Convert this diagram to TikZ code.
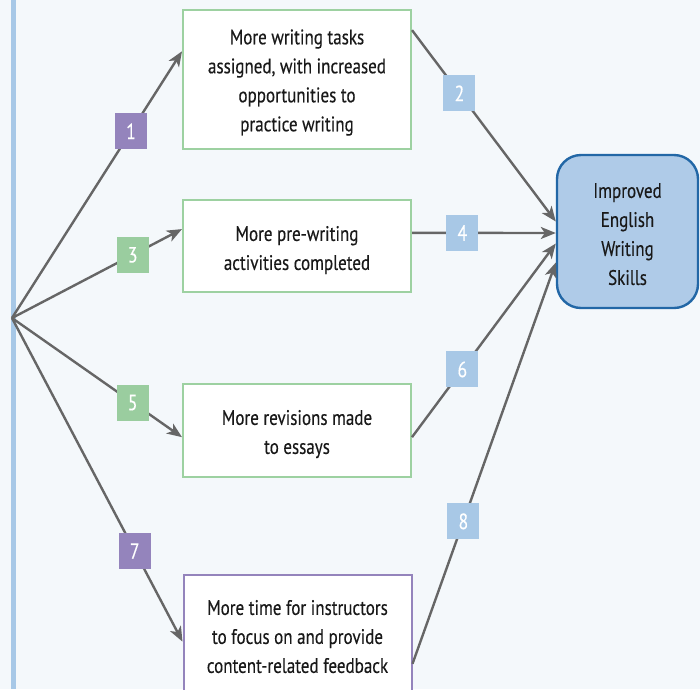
\documentclass[tikz,border=0pt]{standalone}
\usepackage{fontspec}
\setmainfont[FakeStretch=0.81,FakeBold=0.3]{PT Sans}
\usepackage{tikz}
\usetikzlibrary{
  arrows.meta,
  calc
}
\definecolor{pagebg}{HTML}{F4F8FB}
\definecolor{barblue}{HTML}{A7C8E7}
\definecolor{boxgreen}{HTML}{9DD1A1}
\definecolor{badgegreen}{HTML}{9ACD9F}
\definecolor{boxpurple}{HTML}{9484BC}
\definecolor{badgeblue}{HTML}{A8C8E6}
\definecolor{goalfill}{HTML}{AFCBE8}
\definecolor{goalline}{HTML}{2267A6}
\colorlet{linkgray}{black!60}
\newcommand\toppad[1]{\rule{0pt}{#1}}
\tikzset{
  effectbox/.style={draw=boxgreen,line width=2pt,fill=white,minimum width=228pt,
    align=center,inner sep=0pt,font=\fontsize{21}{29}\selectfont,text=black!90},
  goalbox/.style={draw=goalline,line width=2.4pt,fill=goalfill,rounded corners=24pt,
    minimum width=141pt,minimum height=153pt,align=center,inner sep=0pt,
    font=\fontsize{21}{29}\selectfont,text=black!90},
  badge/.style={fill=#1,text=white,minimum width=32pt,minimum height=36pt,inner sep=0pt,
    font=\fontsize{22}{22}\selectfont},
  link/.style={draw=linkgray,line width=2.4pt,-{Stealth[length=15pt,width=12pt,inset=4pt]}},
}

\begin{document}
\begin{tikzpicture}[x=1pt,y=-1pt]
\clip (0,0) rectangle (700,689);
\fill[pagebg] (0,0) rectangle (700,689);
\fill[barblue] (11,0) rectangle (16,689);
\coordinate (src) at (12,318);
\node[effectbox,minimum height=139pt] (tasks) at (297,79.5)
  {\toppad{21pt}More writing tasks\\assigned, with increased\\opportunities to\\practice writing};
\node[effectbox,minimum height=92pt] (prewrite) at (297,246)
  {\toppad{23pt}More pre-writing\\activities completed};
\node[effectbox,minimum height=93pt] (revise) at (297,430.5)
  {\toppad{22pt}More revisions made\\to essays};
\node[effectbox,draw=boxpurple,minimum height=121pt] (feedback) at (297.5,635.5)
  {\toppad{17pt}More time for instructors\\to focus on and provide\\content-related feedback};
\node[goalbox] (goal) at (627.5,231.5) {\toppad{20pt}Improved\\English\\Writing\\Skills};
% left fan
\path[link] (src) -- ($(tasks.north west)!0.3!(tasks.south west)$)
  node[badge=boxpurple,pos=0.7] (n1) {1};
\path[link] (src) -- ($(prewrite.north west)!0.32!(prewrite.south west)$)
  node[badge=badgegreen,pos=0.71] (n3) {3};
\path[link] (src) -- ($(revise.north west)!0.57!(revise.south west)$)
  node[badge=badgegreen,pos=0.71] (n5) {5};
\path[link] (src) -- ($(feedback.north west)!0.55!(feedback.south west)$)
  node[badge=boxpurple,pos=0.72] (n7) {7};
% right fan
\path[link] ($(tasks.north east)!0.15!(tasks.south east)$) -- ($(goal.west)+(0,-10)$)
  node[badge=badgeblue,pos=0.33] (n2) {2};
\path[link] ($(prewrite.north east)!0.36!(prewrite.south east)$) -- ($(goal.west)+(0,1.5)$)
  node[badge=badgeblue,pos=0.35] (n4) {4};
\path[link] ($(revise.north east)!0.57!(revise.south east)$) -- ($(goal.west)+(0,12)$)
  node[badge=badgeblue,pos=0.35] (n6) {6};
\path[link] ($(feedback.north east)!0.73!(feedback.south east)$) -- ($(goal.west)+(0,31)$)
  node[badge=badgeblue,pos=0.355] (n8) {8};
\end{tikzpicture}
\end{document}
